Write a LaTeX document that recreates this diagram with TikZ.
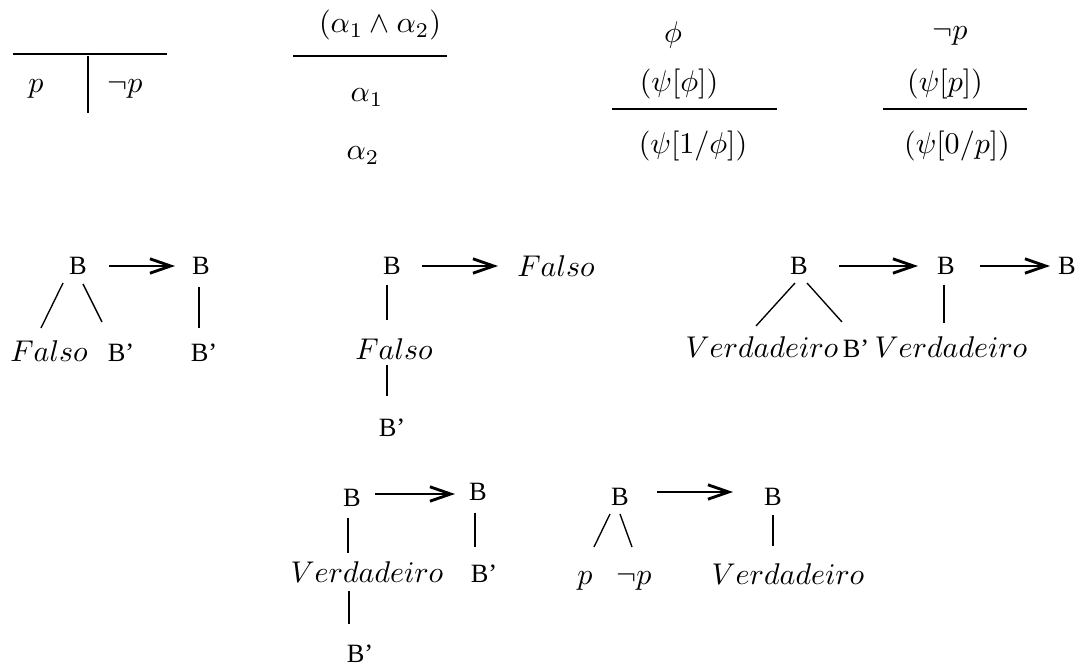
\documentclass[tikz,border=0pt]{standalone}
\usepackage[no-math]{fontspec}
\newfontfamily\bfont{Liberation Serif}
\usetikzlibrary{arrows.meta,calc}
\begin{document}
\begin{tikzpicture}[x=0.33333pt,y=-0.33333pt,
  mnode/.style={inner sep=0pt,anchor=base},
  bnode/.style={inner sep=0pt,anchor=base,font=\bfont\fontsize{8.8}{10}\selectfont},
  edge/.style={line width=0.45pt},
  rule/.style={line width=0.5pt},
  implies/.style={line width=0.95pt,-{Straight Barb[length=6.9pt,width=4.8pt,line width=0.95pt]}}]
\useasboundingbox (0,0) rectangle (1083,668);

% ---- top rules ----
\node[mnode] (tp) at (36,93) {$p$};
\node[mnode] (tnp) at (125,93) {$\neg p$};
\draw[rule] (13,54) -- (167,54);
\draw[rule] (88,56) -- (88,113);

\node[mnode] (conj) at (380,33) {$(\alpha_1 \wedge \alpha_2)$};
\draw[rule] (293,56) -- (447,56);
\node[mnode] (a1) at (367,102) {$\alpha_1$};
\node[mnode] (a2) at (363,160) {$\alpha_2$};

\node[mnode] (phi) at (673,43) {$\phi$};
\node[mnode] (psiphi) at (679,92) {$(\psi[\phi])$};
\draw[rule] (612,109) -- (777,109);
\node[mnode] (psione) at (693,154) {$(\psi[1/\phi])$};

\node[mnode] (np) at (950,40) {$\neg p$};
\node[mnode] (psip) at (945,92) {$(\psi[p])$};
\draw[rule] (883,109) -- (1027,109);
\node[mnode] (psizero) at (957,154) {$(\psi[0/p])$};

% ---- tree 1 ----
\node[bnode] (t1b) at (78,275) {B};
\node[bnode] (t1r) at (201,275) {B};
\node[mnode] (t1f) at (49,362) {$Falso$};
\node[bnode] (t1bp) at (121,362) {B’};
\node[bnode] (t1rbp) at (204,362) {B’};
\draw[implies] ($(t1b.base)+(31,-9)$) -- ($(t1r.base)+(-26,-9)$);
\draw[edge] ($(t1b.base)+(-15,8)$) -- ($(t1f.base)+(-8,-34)$);
\draw[edge] ($(t1b.base)+(5,9)$) -- ($(t1bp.base)+(-19,-40)$);
\draw[edge] ($(t1r.base)+(-2,12)$) -- ($(t1rbp.base)+(-5,-34)$);

% ---- tree 2 ----
\node[bnode] (t2b) at (392,275) {B};
\node[mnode] (t2r) at (556,277) {$Falso$};
\node[mnode] (t2f) at (394,360) {$Falso$};
\node[bnode] (t2bp) at (392,437) {B’};
\draw[implies] ($(t2b.base)+(30,-9)$) -- ($(t2r.base)+(-58,-11)$);
\draw[edge] ($(t2b.base)+(-5,10)$) -- ($(t2f.base)+(-7,-40)$);
\draw[edge] ($(t2f.base)+(-7,5)$) -- ($(t2bp.base)+(-5,-41)$);

% ---- tree 3 ----
\node[bnode] (t3b) at (799,275) {B};
\node[bnode] (t3m) at (946,275) {B};
\node[bnode] (t3r) at (1067,275) {B};
\node[mnode] (t3v) at (762,358) {$Verdadeiro$};
\node[bnode] (t3bp) at (856,358) {B’};
\node[mnode] (t3v2) at (951,358) {$Verdadeiro$};
\draw[implies] ($(t3b.base)+(40,-9)$) -- ($(t3m.base)+(-28,-9)$);
\draw[implies] ($(t3m.base)+(34,-9)$) -- ($(t3r.base)+(-17,-9)$);
\draw[edge] ($(t3b.base)+(-4,8)$) -- ($(t3v.base)+(-6,-32)$);
\draw[edge] ($(t3b.base)+(8,8)$) -- ($(t3bp.base)+(-14,-36)$);
\draw[edge] ($(t3m.base)+(-2,10)$) -- ($(t3v2.base)+(-7,-35)$);

% ---- tree 4 ----
\node[bnode] (t4b) at (352,507) {B};
\node[bnode] (t4r) at (478,501) {B};
\node[mnode] (t4v) at (367,583) {$Verdadeiro$};
\node[bnode] (t4bp) at (360,663) {B’};
\node[bnode] (t4rbp) at (484,583) {B’};
\draw[implies] ($(t4b.base)+(23,-13)$) -- ($(t4r.base)+(-23,-7)$);
\draw[edge] ($(t4b.base)+(-4,11)$) -- ($(t4v.base)+(-19,-30)$);
\draw[edge] ($(t4v.base)+(-18,8)$) -- ($(t4bp.base)+(-11,-39)$);
\draw[edge] ($(t4r.base)+(-3,12)$) -- ($(t4rbp.base)+(-9,-36)$);

% ---- tree 5 ----
\node[bnode] (t5b) at (620,506) {B};
\node[bnode] (t5r) at (773,506) {B};
\node[mnode] (t5p) at (585,585) {$p$};
\node[mnode] (t5np) at (634,585) {$\neg p$};
\node[mnode] (t5v) at (788,585) {$Verdadeiro$};
\draw[implies] ($(t5b.base)+(37,-14)$) -- ($(t5r.base)+(-40,-14)$);
\draw[edge] ($(t5b.base)+(-10,8)$) -- ($(t5p.base)+(9,-38)$);
\draw[edge] ($(t5b.base)+(0,8)$) -- ($(t5np.base)+(-2,-38)$);
\draw[edge] ($(t5r.base)+(0,9)$) -- ($(t5v.base)+(-15,-39)$);
\end{tikzpicture}
\end{document}
